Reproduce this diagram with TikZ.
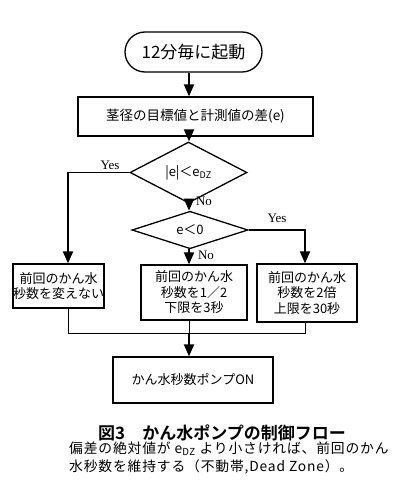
\documentclass[tikz,border=0pt]{standalone}
\usepackage{fontspec}
\setmainfont{Noto Sans CJK JP}
\newfontfamily\jpbold{Noto Sans CJK JP Bold}
\newfontfamily\jpspaced{Noto Sans CJK JP}[LetterSpace=6]
\newfontfamily\latinserif{Liberation Serif}
\usetikzlibrary{shapes.geometric,arrows.meta}
\begin{document}
\begin{tikzpicture}[x=1pt,y=-1pt,
  box/.style={draw,line width=1.3pt,inner sep=0pt,align=center,font=\fontsize{13}{15.5}\selectfont},
  term/.style={draw,line width=1.3pt,rounded corners=20pt,inner sep=0pt,font=\fontsize{17}{20}\selectfont},
  cond/.style={draw,diamond,line width=1.3pt,inner sep=0pt,font=\fontsize{13}{15}\selectfont},
  arr/.style={line width=1.8pt,-{Triangle[length=12pt,width=10pt]}},
  joinline/.style={line width=1pt},
  lab/.style={font=\latinserif\fontsize{13}{15}\selectfont,inner sep=0pt},
  note/.style={anchor=west,font=\jpspaced\fontsize{13.8}{16}\selectfont,inner sep=0pt}]
\useasboundingbox (0,0) rectangle (400,484);
\node[term,minimum width=137pt,minimum height=40pt] (start) at (193.5,52) {12分毎に起動};
\node[box,minimum width=235pt,minimum height=39pt,font=\fontsize{13.5}{16}\selectfont] (diff) at (195.5,116.5) {茎径の目標値と計測値の差(e)};
\node[cond,minimum width=117pt,minimum height=35pt] (d1) at (188.5,172.5) {|e|＜e\textsubscript{DZ}};
\node[cond,minimum width=116pt,minimum height=34pt] (d2) at (190,230) {e＜0};
\node[box,minimum width=89pt,minimum height=44pt] (b1) at (58.5,286) {前回のかん水\\秒数を変えない};
\node[box,minimum width=106pt,minimum height=55pt] (b2) at (194,292.5) {前回のかん水\\秒数を1／2\\下限を3秒};
\node[box,minimum width=100pt,minimum height=58pt] (b3) at (307,293) {前回のかん水\\秒数を2倍\\上限を30秒};
\node[box,minimum width=160pt,minimum height=46pt] (b4) at (193,380) {かん水秒数ポンプON};
\coordinate (c) at (189,0);
\coordinate (lx) at (68,0);
\coordinate (rx) at (305,0);
\coordinate (my) at (0,333);
\draw[arr] (start.south -| c) -- (diff.north -| c);
\draw[arr] (diff.south -| c) -- (d1.north -| c);
\draw[arr] (d1.south -| c) -- (d2.north -| c);
\draw[arr] (d2.south -| c) -- (b2.north -| c);
\draw[arr] (d1.west) -- (d1.west -| lx) -- (b1.north -| lx);
\draw[arr] (d2.east) -- (d2.east -| rx) -- (b3.north -| rx);
\draw[joinline] (b1.south -| lx) -- (my -| lx) -- (my -| rx) -- (b3.south -| rx);
\draw[joinline] (b2.south -| c) -- (my -| c);
\draw[arr] (my -| c) -- (b4.north -| c);
\node[lab] (y1) at (110,165) {Yes};
\node[lab] (n1) at (204,201) {No};
\node[lab] (y2) at (277,218) {Yes};
\node[lab] (n2) at (206,255) {No};
\node[font=\jpbold\fontsize{17}{20}\selectfont,inner sep=0pt] (cap) at (222,433) {図3　かん水ポンプの制御フロー};
\node[note] (t1) at (69,449) {偏差の絶対値が e\textsubscript{DZ} より小さければ、前回のかん};
\node[note] (t2) at (69,467) {水秒数を維持する（不動帯,Dead Zone）。};
\end{tikzpicture}
\end{document}
